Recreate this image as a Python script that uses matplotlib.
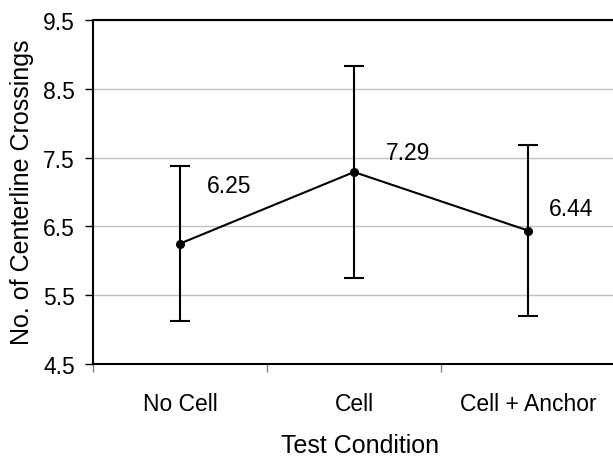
import matplotlib
matplotlib.use("Agg")
import matplotlib.pyplot as plt

conditions = ["No Cell", "Cell", "Cell + Anchor"]
means = [6.25, 7.29, 6.44]
errors = [1.13, 1.54, 1.24]
value_labels = ["6.25", "7.29", "6.44"]
yticks = [4.5, 5.5, 6.5, 7.5, 8.5, 9.5]

plt.rcParams['font.family'] = ['Liberation Sans', 'DejaVu Sans']

W, H = 613, 460
fig = plt.figure(figsize=(W / 100, H / 100), dpi=100)
ax = fig.add_axes([93 / W, 95 / H, 522 / W, 344 / H])

x = list(range(len(conditions)))
ax.errorbar(x, means, yerr=errors, color="black", lw=1.5, capsize=7,
            capthick=1.5, elinewidth=1.5, marker="o", markersize=5.5, zorder=3)

# label offsets in pixels (dx, dy)
offsets = [(49, 58), (54, 20), (43, 22)]
for xi, m, lab, (dx, dy) in zip(x, means, value_labels, offsets):
    ax.annotate(lab, (xi, m), xytext=(dx * 0.72, dy * 0.72),
                textcoords="offset points", ha="center", va="center",
                fontsize=16.5)

ax.set_xlim(-0.5, 2.5)
ax.set_ylim(4.5, 9.5)
ax.set_yticks(yticks)
ax.set_yticklabels([str(v) for v in yticks], fontsize=16.5)
ax.set_xticks(x)
ax.set_xticklabels(conditions, fontsize=16.5)
ax.tick_params(axis="x", length=0, pad=20)
ax.set_xticks([-0.5, 0.5, 1.5, 2.5], minor=True)
ax.tick_params(axis="x", which="minor", length=6, color="#808080", width=1)
ax.tick_params(axis="y", length=6, width=1, color="black", pad=7)

ax.grid(axis="y", color="#c0c0c0", lw=1)
ax.set_axisbelow(True)
for s in ["left", "bottom", "top"]:
    ax.spines[s].set_linewidth(1.5)
    ax.spines[s].set_color("black")
ax.spines["right"].set_visible(False)

fig.text(360 / W, 1 - 446 / H, "Test Condition", ha="center", va="center",
         fontsize=18)
fig.text(22 / W, 1 - 192.5 / H, "No. of Centerline Crossings", ha="center",
         va="center", rotation=90, fontsize=18)

fig.savefig("out.png", dpi=100)
